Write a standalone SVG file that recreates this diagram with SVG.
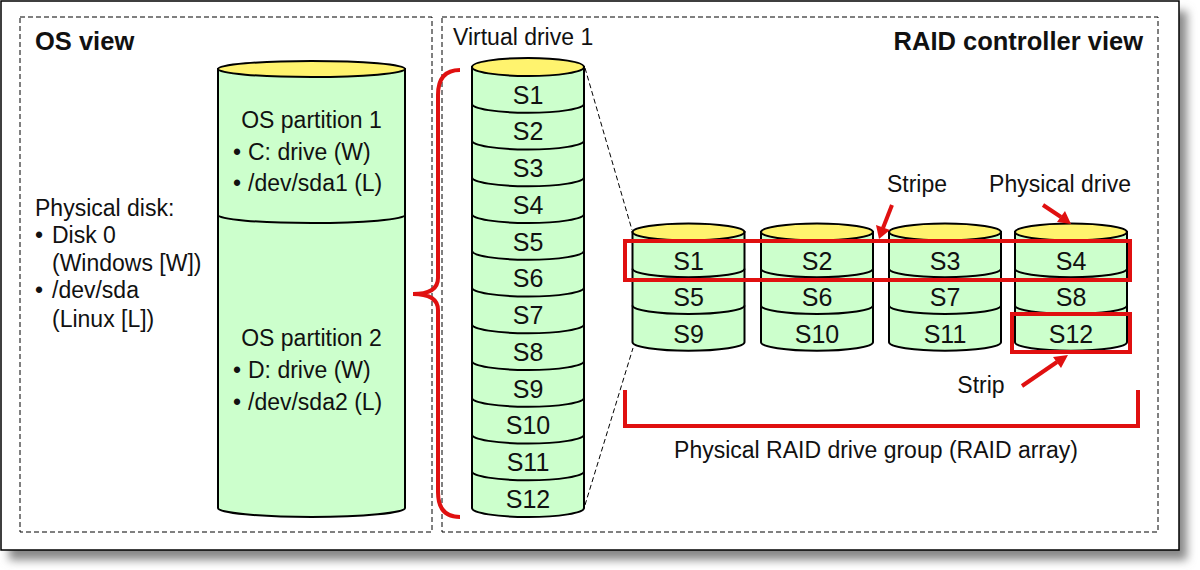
<svg xmlns="http://www.w3.org/2000/svg" width="1200" height="570" viewBox="0 0 1200 570">
<defs>
<filter id="sh" x="-5%" y="-5%" width="115%" height="120%">
<feGaussianBlur stdDeviation="5"/>
</filter>
</defs>
<style>
text{font-family:"Liberation Sans",Arial,sans-serif;fill:#111;}
.t{font-size:23px;}
.s{font-size:25px;text-anchor:middle;}
.b{font-size:25.5px;font-weight:bold;}
.c{text-anchor:middle;}
.body{fill:#ccffcc;stroke:#000;stroke-width:2;}
.top{fill:#fff36e;stroke:#000;stroke-width:2;}
.sep{fill:none;stroke:#000;stroke-width:2;}
.dash{fill:none;stroke:#000;stroke-width:1;stroke-dasharray:5,3;}
.red{fill:none;stroke:#e01010;stroke-width:4;}
.arr{stroke:#e01010;stroke-width:4;fill:none;}
</style>
<rect width="1200" height="570" fill="#fff"/>
<rect x="9" y="11" width="1178" height="549" fill="#888" filter="url(#sh)"/>
<rect x="1" y="1" width="1178" height="549" fill="#fff" stroke="#000" stroke-width="1.5"/>

<g id="os-view">
<rect class="dash" x="20" y="17" width="412" height="515"/>
<text class="b" x="35" y="50">OS view</text>
<text class="t" x="35" y="216">Physical disk:</text>
<text class="t" x="35" y="243">•</text><text class="t" x="52" y="243">Disk 0</text>
<text class="t" x="52" y="271">(Windows [W])</text>
<text class="t" x="35" y="298">•</text><text class="t" x="52" y="298">/dev/sda</text>
<text class="t" x="52" y="327">(Linux [L])</text>
</g>

<g id="os-disk">
<path class="body" d="M218,69 L218,508 A93.5,9 0 0 0 405,508 L405,69 Z"/>
<ellipse class="top" cx="311.5" cy="69" rx="93.5" ry="8"/>
<path class="sep" d="M218,215 A93.5,8 0 0 0 405,215"/>
<text class="t c" x="311.5" y="128">OS partition 1</text>
<text class="t" x="233" y="160">•</text><text class="t" x="248" y="160">C: drive (W)</text>
<text class="t" x="233" y="191">•</text><text class="t" x="248" y="191">/dev/sda1 (L)</text>
<text class="t c" x="311.5" y="346">OS partition 2</text>
<text class="t" x="233" y="378">•</text><text class="t" x="248" y="378">D: drive (W)</text>
<text class="t" x="233" y="410">•</text><text class="t" x="248" y="410">/dev/sda2 (L)</text>
</g>

<g id="raid-view">
<rect class="dash" x="442" y="17" width="716" height="515"/>
<text class="b" x="1143" y="50" text-anchor="end">RAID controller view</text>
<text class="t" x="453" y="45">Virtual drive 1</text>
</g>

<g id="virtual-drive">
<path class="body" d="M472,67 L472,508 A56,9 0 0 0 584,508 L584,67 Z"/>
<ellipse class="top" cx="528" cy="67" rx="56" ry="9"/>
<path class="sep" d="M472,103.75 A56,9 0 0 0 584,103.75 M472,140.5 A56,9 0 0 0 584,140.5 M472,177.25 A56,9 0 0 0 584,177.25 M472,214 A56,9 0 0 0 584,214 M472,250.75 A56,9 0 0 0 584,250.75 M472,287.5 A56,9 0 0 0 584,287.5 M472,324.25 A56,9 0 0 0 584,324.25 M472,361 A56,9 0 0 0 584,361 M472,397.75 A56,9 0 0 0 584,397.75 M472,434.5 A56,9 0 0 0 584,434.5 M472,471.25 A56,9 0 0 0 584,471.25"/>
<text class="s" x="528" y="104">S1</text>
<text class="s" x="528" y="140">S2</text>
<text class="s" x="528" y="177">S3</text>
<text class="s" x="528" y="214">S4</text>
<text class="s" x="528" y="251">S5</text>
<text class="s" x="528" y="287">S6</text>
<text class="s" x="528" y="324">S7</text>
<text class="s" x="528" y="361">S8</text>
<text class="s" x="528" y="398">S9</text>
<text class="s" x="528" y="434">S10</text>
<text class="s" x="528" y="471">S11</text>
<text class="s" x="528" y="508">S12</text>
</g>

<g id="drive-1">
<path class="body" d="M632.5,232 L632.5,342.25 A56,8.5 0 0 0 744.5,342.25 L744.5,232 Z"/>
<ellipse class="top" cx="688.5" cy="232" rx="56" ry="8.5"/>
<path class="sep" d="M632.5,268.75 A56,8.5 0 0 0 744.5,268.75 M632.5,305.5 A56,8.5 0 0 0 744.5,305.5"/>
<text class="s" x="688.5" y="270">S1</text>
<text class="s" x="688.5" y="306">S5</text>
<text class="s" x="688.5" y="343">S9</text>
</g>
<g id="drive-2">
<path class="body" d="M761,232 L761,342.25 A56,8.5 0 0 0 873,342.25 L873,232 Z"/>
<ellipse class="top" cx="817" cy="232" rx="56" ry="8.5"/>
<path class="sep" d="M761,268.75 A56,8.5 0 0 0 873,268.75 M761,305.5 A56,8.5 0 0 0 873,305.5"/>
<text class="s" x="817" y="270">S2</text>
<text class="s" x="817" y="306">S6</text>
<text class="s" x="817" y="343">S10</text>
</g>
<g id="drive-3">
<path class="body" d="M889,232 L889,342.25 A56,8.5 0 0 0 1001,342.25 L1001,232 Z"/>
<ellipse class="top" cx="945" cy="232" rx="56" ry="8.5"/>
<path class="sep" d="M889,268.75 A56,8.5 0 0 0 1001,268.75 M889,305.5 A56,8.5 0 0 0 1001,305.5"/>
<text class="s" x="945" y="270">S3</text>
<text class="s" x="945" y="306">S7</text>
<text class="s" x="945" y="343">S11</text>
</g>
<g id="drive-4">
<path class="body" d="M1015,232 L1015,342.25 A56,8.5 0 0 0 1127,342.25 L1127,232 Z"/>
<ellipse class="top" cx="1071" cy="232" rx="56" ry="8.5"/>
<path class="sep" d="M1015,268.75 A56,8.5 0 0 0 1127,268.75 M1015,305.5 A56,8.5 0 0 0 1127,305.5"/>
<text class="s" x="1071" y="270">S4</text>
<text class="s" x="1071" y="306">S8</text>
<text class="s" x="1071" y="343">S12</text>
</g>

<g id="stripe-box">
<rect class="red" x="625" y="241" width="505" height="39"/>
<text class="t c" x="917" y="192">Stripe</text>
</g>
<g id="strip-box">
<rect class="red" x="1012" y="314" width="118" height="38"/>
<text class="t c" x="981" y="393">Strip</text>
</g>
<g id="physical-drive-label">
<text class="t c" x="1060" y="192">Physical drive</text>
</g>
<g id="raid-group">
<path class="red" d="M625,390 L625,426 L1138,426 L1138,390"/>
<text class="t c" x="876" y="458">Physical RAID drive group (RAID array)</text>
</g>

<g id="connectors">
<path class="red" d="M460,70 Q438,70 438,95 L438,278 Q438,294 413,294 Q438,294 438,310 L438,492 Q438,517 460,517"/>
<path class="dash" d="M585,68 L632,230 M585,505 L633,348"/>
<line class="arr" x1="892" y1="205" x2="883" y2="228"/>
<polygon points="879,239 876,225 890,230" fill="#e01010"/>
<line class="arr" x1="1043" y1="205" x2="1061" y2="217"/>
<polygon points="1071,224 1057,222 1065,211" fill="#e01010"/>
<line class="arr" x1="1022" y1="386" x2="1057" y2="362"/>
<polygon points="1068,355 1061,368 1053,357" fill="#e01010"/>
</g>
</svg>
